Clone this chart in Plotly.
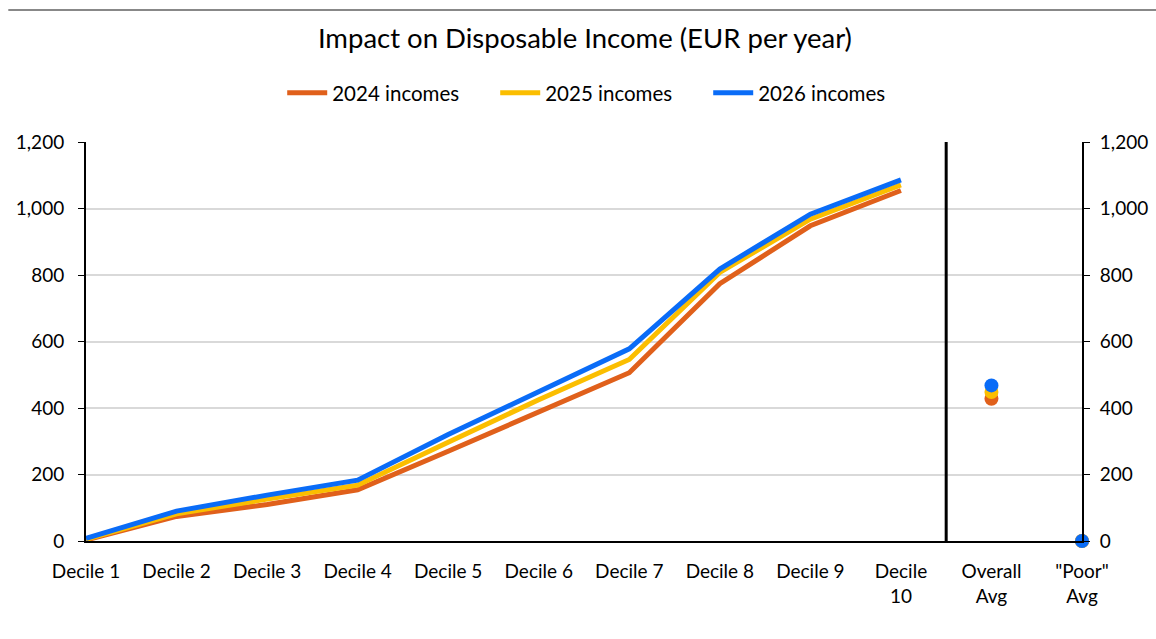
import plotly.graph_objects as go

# Income groups along the x axis
categories = ["Decile 1", "Decile 2", "Decile 3", "Decile 4", "Decile 5",
              "Decile 6", "Decile 7", "Decile 8", "Decile 9", "Decile<br>10",
              "Overall<br>Avg", "\"Poor\"<br>Avg"]
decile_labels = categories[:10]
summary_labels = categories[10:]

# Impact per decile (EUR per year)
inc_2024 = [3, 74, 110, 154, 270, 389, 506, 774, 948, 1054]
inc_2025 = [5, 82, 126, 168, 297, 425, 546, 808, 968, 1071]
inc_2026 = [8, 90, 138, 183, 320, 451, 578, 818, 983, 1086]

# Overall average and "poor" average
avg_2024 = [428, 0]
avg_2025 = [448, 0]
avg_2026 = [468, 0]

series_names = ["2024 incomes", "2025 incomes", "2026 incomes"]
colors = ["#E0601B", "#FBBE00", "#0A6CF7"]

y_ticks = [0, 200, 400, 600, 800, 1000, 1200]

FONT = "Lato"
TICK_SIZE = 19

fig = go.Figure()

for name, vals, avgs, col in zip(series_names,
                                 [inc_2024, inc_2025, inc_2026],
                                 [avg_2024, avg_2025, avg_2026], colors):
    fig.add_trace(go.Scatter(x=decile_labels, y=vals, name=name, mode="lines",
                             line=dict(color=col, width=5), legendgroup=name))
    fig.add_trace(go.Scatter(x=summary_labels, y=avgs, name=name, mode="markers",
                             marker=dict(color=col, size=14), yaxis="y2",
                             cliponaxis=False, legendgroup=name,
                             showlegend=False))

axis_common = dict(range=[0, 1200], tickvals=y_ticks, tickformat=",",
                   ticks="outside", ticklen=6, tickcolor="black",
                   showline=True, linecolor="black", linewidth=2,
                   automargin=False,
                   tickfont=dict(family=FONT, size=TICK_SIZE, color="black"))

fig.update_layout(
    width=1156, height=639,
    margin=dict(l=86, r=74, t=142, b=98, autoexpand=False),
    paper_bgcolor="white", plot_bgcolor="white",
    font=dict(family=FONT, color="black"),
    title=dict(text="Impact on Disposable Income (EUR per year)",
               x=0.506, xanchor="center", y=0.94, yanchor="middle",
               font=dict(family=FONT, size=27.5, color="black")),
    legend=dict(orientation="h", x=0.197, xanchor="left", y=1.123,
                yanchor="middle", font=dict(family=FONT, size=20.5, color="black"),
                itemwidth=40, entrywidth=158, entrywidthmode="pixels",
                traceorder="normal"),
    xaxis=dict(type="category", categoryorder="array", categoryarray=categories,
               range=[0, 11], showgrid=False, showline=True, linecolor="black",
               linewidth=2, ticks="", ticklabelstandoff=12, automargin=False,
               tickfont=dict(family=FONT, size=TICK_SIZE, color="black")),
    yaxis=dict(showgrid=True, gridcolor="#D9D9D9", gridwidth=1.5,
               zeroline=False, ticklabelstandoff=10, **axis_common),
    yaxis2=dict(overlaying="y", side="right", showgrid=False, zeroline=False,
                ticklabelstandoff=6, **axis_common),
    showlegend=True,
)

# Divider between the deciles and the summary averages
fig.add_shape(type="line", xref="x", yref="paper", x0=9.5, x1=9.5, y0=0, y1=1,
              line=dict(color="black", width=3))

# Thin rule along the top of the chart
fig.add_shape(type="line", xref="paper", yref="paper", x0=-0.078, x1=1.08,
              y0=1.331, y1=1.331, line=dict(color="#606060", width=1.5))

fig.write_html("out.html")
